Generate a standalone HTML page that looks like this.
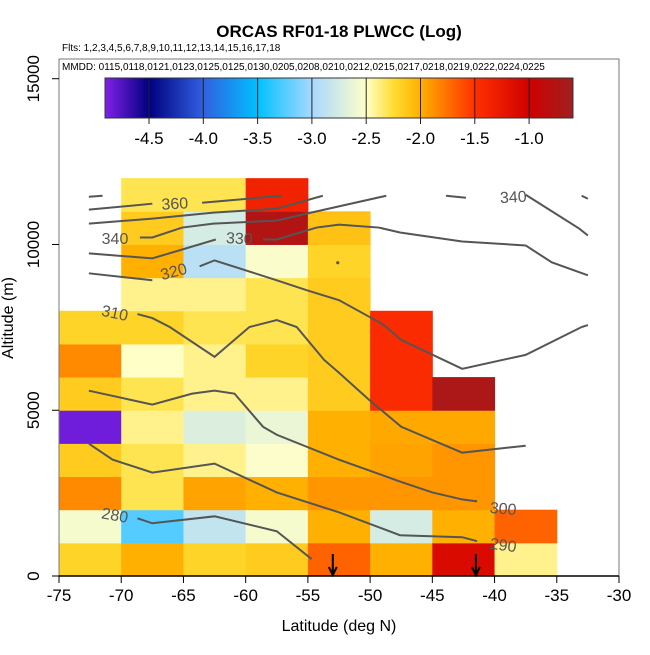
<!DOCTYPE html>
<html><head><meta charset="utf-8"><style>
body{margin:0;background:#fff}
svg text{font-family:"Liberation Sans",sans-serif}
</style></head><body>
<svg id="chart" width="650" height="650" viewBox="0 0 650 650" xmlns="http://www.w3.org/2000/svg">
<rect width="650" height="650" fill="#fff"/>
<g id="cells"></g>
<g id="contours"></g>
<g id="axes"></g>
<g id="cbar"></g>
<text x="339" y="37" text-anchor="middle" font-size="17" font-weight="bold">ORCAS RF01-18 PLWCC (Log)</text>
<text x="62" y="51" font-size="10">Flts: 1,2,3,4,5,6,7,8,9,10,11,12,13,14,15,16,17,18</text>
<text x="62" y="70" font-size="10">MMDD: 0115,0118,0121,0123,0125,0125,0130,0205,0208,0210,0212,0215,0217,0218,0219,0222,0224,0225</text>
<text x="339" y="631" text-anchor="middle" font-size="16">Latitude (deg N)</text>
<text transform="translate(13,318) rotate(-90)" text-anchor="middle" font-size="16">Altitude (m)</text>
</svg>
<script>
// ---- data ----
const colStarts = [-75,-70,-65,-60,-55,-50,-45,-40];
const col0 = [-2.2,-2.55,-1.85,-2.15,-4.85,-2.15,-1.85,-2.2];
const col1 = [-2.0,-3.25,-2.3,-2.3,-2.4,-2.3,-2.5,-2.2,-2.4,-2.0,-2.15,-2.3];
const col2 = [-2.2,-2.85,-1.95,-2.4,-2.7,-2.4,-2.4,-2.3,-2.4,-2.9,-2.75,-2.3];
const col3 = [-2.15,-2.55,-2.0,-2.52,-2.62,-2.4,-2.2,-2.3,-2.3,-2.53,-0.75,-1.35];
const col4 = [-1.7,-2.0,-1.9,-2.0,-2.0,-2.15,-2.15,-2.15,-2.15,-2.2,-2.1];
const col5 = [-2.0,-2.75,-1.9,-1.95,-1.97,-1.45,-1.45,-1.45];
const col6 = [-1.1,-2.0,-1.9,-1.9,-1.97,-0.7];
const col7 = [-2.4,-1.7];
const columns = [col0,col1,col2,col3,col4,col5,col6,col7];
const xTicks = [-75,-70,-65,-60,-55,-50,-45,-40,-35,-30];
const yTicks = [0,5000,10000,15000];
const cbTicks = [-4.5,-4.0,-3.5,-3.0,-2.5,-2.0,-1.5,-1.0];
const arrowLats = [-53,-41.5];
const c280 = [[-68.7,1740],[-67.5,1590],[-62.5,1800],[-57.5,1350],[-54.7,510]];
const c290 = [[-72.6,3990],[-70.7,3510],[-67.5,3120],[-62.5,3390],[-57.5,2520],[-52.5,1920],[-47.6,1230],[-42.6,1170],[-41.4,1050]];
const c300 = [[-72.6,5590],[-67.5,5170],[-64.3,5500],[-62.5,5590],[-60.9,5500],[-58.6,4500],[-57.5,4260],[-52.5,3510],[-47.6,2850],[-45.0,2520],[-42.6,2310],[-41.4,2250]];
const c310 = [[-68.7,7900],[-67.5,7780],[-66.1,7510],[-62.5,6610],[-59.7,7510],[-57.5,7720],[-55.9,7510],[-53.7,6520],[-52.5,6130],[-50.1,5320],[-47.5,4500],[-42.6,3720],[-37.5,3930]];
const c320a = [[-72.6,9130],[-67.5,8920]];
const c320b = [[-63.7,9340],[-62.5,9520],[-57.5,8920],[-55.1,8620],[-52.5,8320],[-49.3,7660],[-48.7,7510],[-47.5,7120],[-42.6,6250],[-37.5,6670],[-33.0,7510],[-32.5,7570]];
const c330a = [[-72.6,9730],[-67.5,9580],[-62.4,10150]];
const c330b = [[-58.6,10150],[-57.5,10150],[-54.3,10510],[-52.5,10600],[-49.3,10510],[-47.6,10360],[-42.6,10090],[-37.5,9970],[-35.4,9460],[-32.5,9070]];
const c340a = [[-68.5,10210],[-67.5,10210],[-65.1,10510],[-62.6,10630],[-57.5,10720],[-55.1,10930],[-48.7,11470]];
const c340b = [[-43.9,11470],[-42.3,11410]];
const c340c = [[-37.5,11500],[-33.2,10480],[-32.5,10270]];
const c340d = [[-33.0,11470],[-32.5,11380]];
const c350 = [[-72.6,10630],[-67.5,10780],[-62.6,10960],[-57.5,11080],[-53.8,11470]];
const c360a = [[-72.6,11050],[-67.5,11230]];
const c360b = [[-63.5,11260],[-57.1,11470]];
const c360c = [[-72.6,11440],[-71.5,11470]];
const contourSet = [c280,c290,c300,c310,c320a,c320b,c330a,c330b,c340a,c340b,c340c,c340d,c350,c360a,c360b,c360c];
const contourLabels = ["280","290","300","310","320","330","340","360","340"];
const labelPos = [[-70.5,1850,10],[-39.3,950,8],[-39.3,2050,5],[-70.5,7950,12],[-65.8,9200,-15],[-60.5,10200,3],[-70.5,10200,0],[-65.7,11250,-3],[-38.5,11450,-3]];
// colormap stops (value, color)
const cmVals = [-4.9,-4.5,-4.0,-3.5,-3.0,-2.5,-2.25,-2.0,-1.5,-1.0,-0.6];
const cmCols = ["#8020e8","#000080","#3060e0","#00c0ff","#a8d8ff","#ffffc8","#ffdd33","#ffb000","#ff3000","#d00000","#a02020"];

// ---- scales ----
const X0=59, X1=619, Y0=576, Y1=78.7;
const sx = v => X0 + (v+75)/45*(X1-X0);
const sy = v => Y0 - v/15000*(Y0-Y1);
const cbx = v => 149 + (v+4.5)*108.6;
const NS="http://www.w3.org/2000/svg";
function hex(c){return [1,3,5].map(i=>parseInt(c.substr(i,2),16));}
function cmap(v){
  if(v<=cmVals[0]) return cmCols[0];
  for(let i=1;i<cmVals.length;i++){
    if(v<=cmVals[i]){
      const t=(v-cmVals[i-1])/(cmVals[i]-cmVals[i-1]);
      const a=hex(cmCols[i-1]), b=hex(cmCols[i]);
      return "rgb("+a.map((x,k)=>Math.round(x+(b[k]-x)*t)).join(",")+")";
    }
  }
  return cmCols[cmCols.length-1];
}
function mk(tag,attrs,parent){const e=document.createElementNS(NS,tag);for(const k in attrs)e.setAttribute(k,attrs[k]);parent.appendChild(e);return e;}

// cells
const gc=document.getElementById('cells');
columns.forEach((col,ci)=>{
  col.forEach((v,ri)=>{
    const r=mk('rect',{x:sx(colStarts[ci]),y:sy((ri+1)*1000),width:sx(colStarts[ci]+5)-sx(colStarts[ci])+0.5,height:sy(ri*1000)-sy((ri+1)*1000)+0.5,fill:cmap(v)},gc);
    
    
  });
});

// contours
const gl=document.getElementById('contours');
contourSet.forEach(c=>{
  const p=mk('polyline',{points:c.map(d=>sx(d[0])+","+sy(d[1])).join(" "),fill:"none",stroke:"#555","stroke-width":2},gl);
  
  
});
const dot=mk('circle',{cx:sx(-52.6),cy:sy(9450),r:1.6,fill:"#555"},gl);


contourLabels.forEach((t,i)=>{
  const [la,al,rot]=labelPos[i];
  const x=sx(la), y=sy(al);
  const e=mk('text',{x:x,y:y+6,"text-anchor":"middle","font-size":16,fill:"#555",transform:"rotate("+rot+" "+x+" "+y+")"},gl);
  e.textContent=t;
  
  
});
arrowLats.forEach(a=>{
  const x=sx(a);
  const l=mk('path',{d:"M"+x+" "+(Y0-22)+"V"+(Y0-1)+"M"+(x-4)+" "+(Y0-9)+"L"+x+" "+(Y0-1)+"L"+(x+4)+" "+(Y0-9),stroke:"#000","stroke-width":2,fill:"none"},gl);
  
  
});

// axes
const ga=document.getElementById('axes');
const fr=mk('rect',{x:X0,y:59,width:X1-X0,height:Y0-59,fill:"none",stroke:"#777","stroke-width":1},ga);


const xb=mk('line',{x1:X0,y1:Y0,x2:X1,y2:Y0,stroke:"#000","stroke-width":1.5},ga);


xTicks.forEach(t=>{
  const x=sx(t);
  const tk=mk('line',{x1:x,y1:Y0,x2:x,y2:Y0+7,stroke:"#000"},ga);
  
  
  const tl=mk('text',{x:x,y:Y0+25,"text-anchor":"middle","font-size":17},ga);
  tl.textContent=t;
  
  
});
yTicks.forEach(t=>{
  const y=sy(t);
  const tk=mk('line',{x1:X0-7,y1:y,x2:X0,y2:y,stroke:"#000"},ga);
  
  
  const tl=mk('text',{x:0,y:0,"text-anchor":"middle","font-size":17,transform:"translate("+(X0-20)+","+y+") rotate(-90)"},ga);
  tl.textContent=t;
  
  
});

// colorbar
const gb=document.getElementById('cbar');
const defs=mk('defs',{},gb);
const grad=mk('linearGradient',{id:"cg",x1:cbx(-4.905),x2:cbx(-0.596),y1:0,y2:0,gradientUnits:"userSpaceOnUse"},defs);
cmVals.forEach((v,i)=>{
  mk('stop',{offset:((cbx(v)-cbx(-4.905))/(cbx(-0.596)-cbx(-4.905))).toFixed(4),"stop-color":cmCols[i]},grad);
});
const cb=mk('rect',{x:cbx(-4.905),y:78,width:cbx(-0.596)-cbx(-4.905),height:40,fill:"url(#cg)",stroke:"#333","stroke-width":1},gb);


cbTicks.forEach(t=>{
  const x=cbx(t);
  const l=mk('line',{x1:x,y1:78,x2:x,y2:124,stroke:"#222","stroke-width":1},gb);
  
  
  const tl=mk('text',{x:x,y:144,"text-anchor":"middle","font-size":17},gb);
  tl.textContent=t.toFixed(1);
  
  
});
</script>
</body></html>
